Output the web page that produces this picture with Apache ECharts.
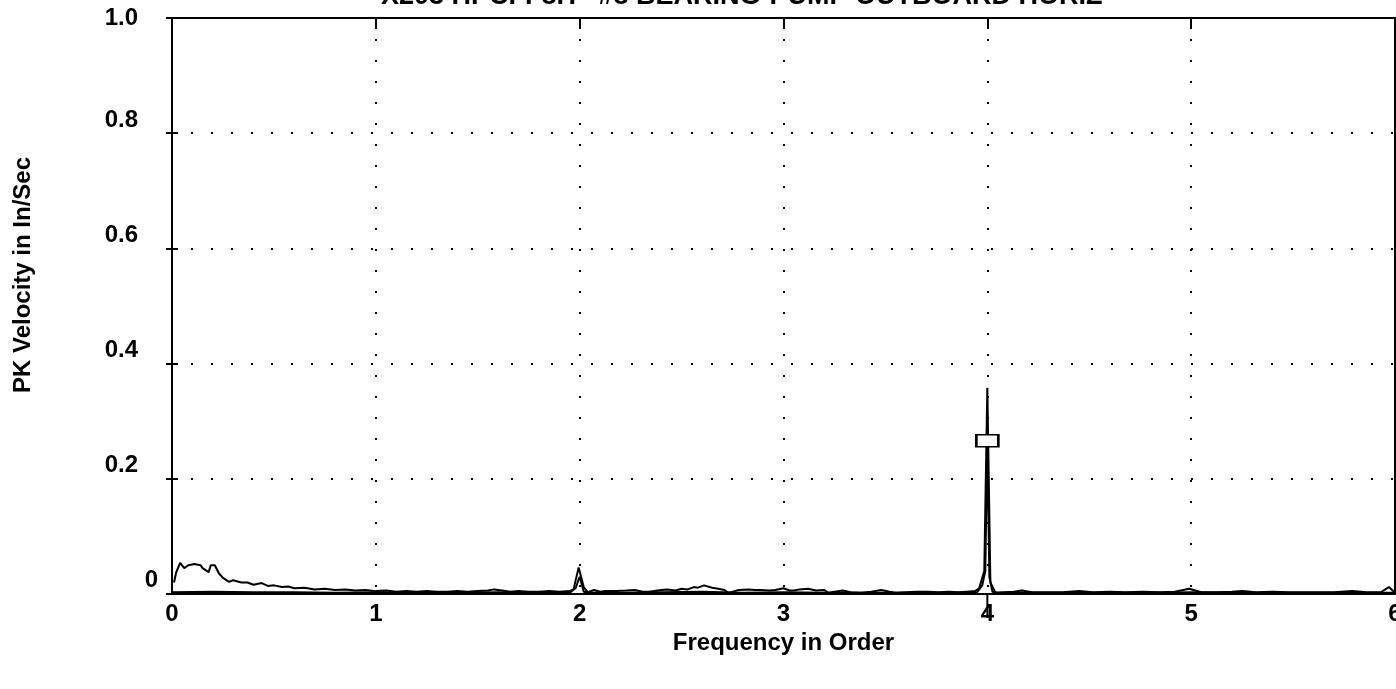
<!DOCTYPE html>
<html>
<head>
<meta charset="utf-8">
<script src="https://cdn.jsdelivr.net/npm/echarts@6/dist/echarts.min.js"></script>
<style>
html,body{margin:0;padding:0;background:#fff;}
#chart{width:1396px;height:689px;}
</style>
</head>
<body>
<div id="chart"></div>
<script>
// ---- data ----
var titleText = 'X203 HPCI-F8H   #8 BEARING-PUMP OUTBOARD HORIZ';
var xName = 'Frequency in Order';
var yName = 'PK Velocity in In/Sec';
var xTicks = [0, 1, 2, 3, 4, 5, 6];
var yTicks = [0, 0.2, 0.4, 0.6, 0.8, 1.0];
var yTickLabels = ['0', '0.2', '0.4', '0.6', '0.8', '1.0'];

// trace A (main spectrum)
var freqA = [0.01,0.02,0.04,0.06,0.08,0.11,0.14,0.15,0.18,0.19,0.21,0.23,0.25,0.28,0.30,0.34,0.37,0.40,0.44,0.47,0.50,0.54,0.57,0.60,0.65,0.70,0.75,0.80,0.85,0.90,0.95,1.00,1.05,1.10,1.15,1.20,1.25,1.30,1.35,1.40,1.45,1.50,1.55,1.58,1.62,1.66,1.70,1.75,1.80,1.85,1.90,1.95,1.97,1.995,2.02,2.04,2.07,2.10,2.12,2.18,2.23,2.27,2.31,2.34,2.40,2.43,2.47,2.50,2.53,2.56,2.58,2.61,2.65,2.68,2.71,2.73,2.76,2.78,2.83,2.86,2.89,2.93,2.96,3.00,3.03,3.05,3.08,3.12,3.16,3.20,3.22,3.25,3.29,3.33,3.38,3.43,3.48,3.52,3.55,3.60,3.65,3.71,3.76,3.81,3.86,3.90,3.94,3.96,3.985,4.00,4.015,4.04,4.08,4.13,4.17,4.22,4.30,4.37,4.45,4.52,4.60,4.68,4.76,4.85,4.92,4.99,5.05,5.12,5.20,5.25,5.32,5.40,5.48,5.55,5.62,5.70,5.79,5.86,5.93,5.97,6.00];
var ampA  = [0.020,0.037,0.054,0.045,0.050,0.052,0.050,0.045,0.038,0.050,0.050,0.036,0.028,0.021,0.024,0.020,0.020,0.016,0.019,0.014,0.015,0.012,0.013,0.010,0.011,0.008,0.009,0.007,0.008,0.006,0.007,0.005,0.006,0.004,0.005,0.004,0.005,0.004,0.004,0.005,0.004,0.005,0.006,0.008,0.006,0.004,0.005,0.004,0.004,0.005,0.004,0.005,0.008,0.046,0.012,0.003,0.007,0.004,0.005,0.005,0.006,0.007,0.004,0.004,0.007,0.008,0.006,0.009,0.008,0.012,0.011,0.015,0.011,0.009,0.007,0.002,0.005,0.007,0.008,0.007,0.007,0.006,0.007,0.010,0.006,0.006,0.008,0.009,0.006,0.007,0.002,0.004,0.006,0.003,0.002,0.004,0.007,0.004,0.002,0.003,0.004,0.004,0.003,0.004,0.003,0.004,0.005,0.010,0.040,0.358,0.020,0.002,0.003,0.004,0.006,0.003,0.003,0.003,0.005,0.003,0.004,0.003,0.004,0.003,0.004,0.009,0.003,0.003,0.004,0.005,0.003,0.004,0.003,0.003,0.003,0.003,0.005,0.003,0.003,0.012,0.002];

// trace B (second, lower spectrum)
var freqB = [0.00,0.20,0.40,0.60,0.80,1.00,1.20,1.40,1.60,1.80,1.95,1.98,2.00,2.02,2.05,2.20,2.40,2.60,2.80,3.00,3.20,3.40,3.60,3.80,3.95,3.975,3.99,4.00,4.01,4.025,4.05,4.20,4.40,4.60,4.80,5.00,5.20,5.40,5.60,5.80,6.00];
var ampB  = [0.003,0.004,0.003,0.003,0.002,0.003,0.002,0.002,0.003,0.002,0.002,0.010,0.030,0.004,0.002,0.002,0.003,0.004,0.002,0.003,0.002,0.002,0.002,0.002,0.003,0.015,0.040,0.266,0.030,0.004,0.002,0.002,0.002,0.002,0.002,0.003,0.002,0.002,0.002,0.002,0.002];

// cursor marker
var markerFreq = [4.0];
var markerAmp = [0.266];

function pairs(xs, ys){ return xs.map(function(x,i){ return [x, ys[i]]; }); }

var FONT = '"Liberation Sans", Arial, sans-serif';
var chart = echarts.init(document.getElementById('chart'), null, {renderer:'canvas'});

var option = {
  animation: false,
  backgroundColor: '#fff',
  title: {
    text: titleText,
    left: 376, top: -22,
    textStyle: {fontFamily: FONT, fontSize: 27, fontWeight: 'bold', color: '#000'}
  },
  grid: {left: 172, right: 1, top: 18, bottom: 95, containLabel: false, outerBoundsMode: 'none'},
  xAxis: [{
    type: 'value', min: xTicks[0], max: xTicks[xTicks.length-1], interval: 1,
    position: 'bottom',
    axisLine: {show: true, onZero: false, lineStyle: {color: '#000', width: 2}},
    axisTick: {show: false},
    axisLabel: {margin: 8, color: '#000', fontFamily: FONT, fontSize: 24, fontWeight: 'bold',
      formatter: function(v){ return String(v); }},
    splitLine: {show: true, lineStyle: {color: '#000', width: 2, type: [2, 19], dashOffset: 0}},
    name: xName, nameLocation: 'middle', nameGap: 35,
    nameTextStyle: {color: '#000', fontFamily: FONT, fontSize: 24, fontWeight: 'bold'}
  }, {
    type: 'value', min: xTicks[0], max: xTicks[xTicks.length-1], interval: 1,
    position: 'top',
    axisLine: {show: true, onZero: false, lineStyle: {color: '#000', width: 2}},
    axisTick: {show: true, inside: true, length: 11, lineStyle: {color: '#000', width: 2}},
    axisLabel: {show: false},
    splitLine: {show: false}
  }],
  yAxis: [{
    type: 'value', min: 0, max: 1, interval: 0.2,
    position: 'left',
    axisLine: {show: true, onZero: false, lineStyle: {color: '#000', width: 2}},
    axisTick: {show: true, length: 6, lineStyle: {color: '#000', width: 2}},
    axisLabel: {
      margin: 14, color: '#000', fontFamily: FONT, fontSize: 24, fontWeight: 'bold',
      formatter: function(v){
        var i = Math.round(v / 0.2);
        var t = yTickLabels[i];
        if (i === 0) return '{z|' + t + '}';
        if (i === yTickLabels.length - 1) return '{t|' + t + '}';
        return '{n|' + t + '}';
      },
      rich: {
        z: {fontFamily: FONT, fontSize: 24, fontWeight: 'bold', color: '#000', padding: [0, 0, 28, 0]},
        n: {fontFamily: FONT, fontSize: 24, fontWeight: 'bold', color: '#000', padding: [0, 20, 26, 0]},
        t: {fontFamily: FONT, fontSize: 24, fontWeight: 'bold', color: '#000', padding: [0, 20, 0, 0]}
      }
    },
    splitLine: {show: true, lineStyle: {color: '#000', width: 2, type: [2, 18], dashOffset: -19}},
    name: yName, nameLocation: 'middle', nameGap: 137, nameRotate: 90,
    nameTextStyle: {color: '#000', fontFamily: FONT, fontSize: 24, fontWeight: 'bold', padding: [0, 0, 0, 62]}
  }, {
    type: 'value', min: 0, max: 1, interval: 0.2,
    position: 'left',
    axisLine: {show: false, onZero: false},
    axisTick: {show: true, inside: true, length: 6, lineStyle: {color: '#000', width: 2}},
    axisLabel: {show: false},
    splitLine: {show: false}
  }, {
    type: 'value', min: 0, max: 1, interval: 0.2,
    position: 'right',
    axisLine: {show: true, onZero: false, lineStyle: {color: '#000', width: 2}},
    axisTick: {show: false},
    axisLabel: {show: false},
    splitLine: {show: false}
  }],
  series: [{
    type: 'line', name: 'B', data: pairs(freqB, ampB),
    xAxisIndex: 0, yAxisIndex: 0,
    symbol: 'none', lineStyle: {color: '#000', width: 2}, z: 3
  }, {
    type: 'line', name: 'A', data: pairs(freqA, ampA),
    xAxisIndex: 0, yAxisIndex: 0,
    symbol: 'none', lineStyle: {color: '#000', width: 2}, z: 4
  }, {
    type: 'scatter', name: 'marker', data: pairs(markerFreq, markerAmp),
    xAxisIndex: 0, yAxisIndex: 0,
    symbol: 'rect', symbolSize: [22, 12],
    itemStyle: {color: '#fff', borderColor: '#000', borderWidth: 2, opacity: 1}, z: 5
  }]
};
chart.setOption(option);

// cursor line continuing below the axis at the marker frequency
var p0 = chart.convertToPixel({xAxisIndex: 0, yAxisIndex: 0}, [markerFreq[0], 0]);
chart.setOption({graphic: [{
  type: 'line', z: 10,
  shape: {x1: p0[0], y1: p0[1], x2: p0[0], y2: p0[1] + 24},
  style: {stroke: '#000', lineWidth: 2}
}]});
</script>
</body>
</html>
